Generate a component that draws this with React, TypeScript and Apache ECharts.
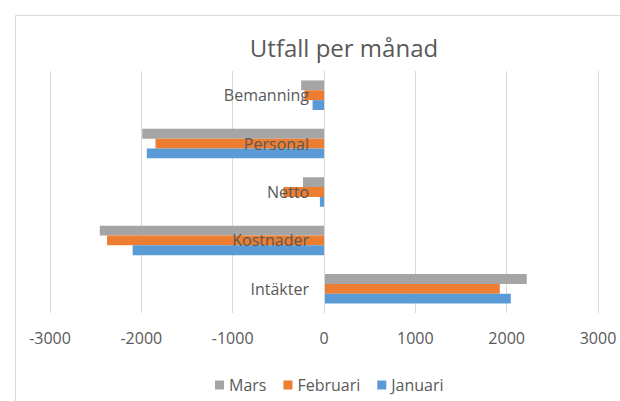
import React, { useEffect, useRef } from "react";
import * as echarts from "echarts";

const categories = ["Intäkter", "Kostnader", "Netto", "Personal", "Bemanning"];
const januari = [2045, -2095, -45, -1940, -125];
const februari = [1925, -2375, -445, -1845, -215];
const mars = [2220, -2455, -230, -1990, -250];
const seriesNames = ["Mars", "Februari", "Januari"];
const colors = ["#A5A5A5", "#ED7D31", "#5B9BD5"];
const titleText = "Utfall per månad";

const FONT = "'Open Sans', 'Noto Sans', sans-serif";
const TEXT = "#595959";
const GRID = "#D9D9D9";

export default function App() {
  const ref = useRef<HTMLDivElement>(null);
  useEffect(() => {
    if (!ref.current) return;
    const chart = echarts.init(ref.current, undefined, { renderer: "svg" });
    const values = [mars, februari, januari];
    chart.setOption({
      animation: false,
      backgroundColor: "#ffffff",
      textStyle: { fontFamily: FONT },
      graphic: [
        {
          type: "rect",
          shape: { x: 15.5, y: 15.5, width: 700, height: 500 },
          style: { fill: "none", stroke: GRID, lineWidth: 1 },
          silent: true,
          z: 0,
        },
        {
          type: "text",
          x: 344,
          y: 47,
          style: {
            text: titleText,
            font: `24px ${FONT}`,
            fill: TEXT,
            textAlign: "center",
            textVerticalAlign: "middle",
          },
        },
      ],
      legend: {
        data: seriesNames,
        left: 210,
        top: 372,
        itemWidth: 9,
        itemHeight: 9,
        itemGap: 17,
        icon: "rect",
        textStyle: { color: TEXT, fontSize: 16, fontFamily: FONT, padding: [0, 0, 0, 0] },
      },
      grid: {
        left: 50,
        right: 22,
        top: 71,
        bottom: 88,
        containLabel: false,
        outerBoundsMode: "none",
      },
      xAxis: {
        type: "value",
        min: -3000,
        max: 3000,
        interval: 1000,
        axisLine: { show: false },
        axisTick: { show: false },
        splitLine: { show: true, lineStyle: { color: GRID, width: 1 } },
        axisLabel: {
          color: TEXT,
          fontSize: 16,
          fontFamily: FONT,
          margin: 17,
          formatter: (v: number) => String(v),
        },
      },
      yAxis: {
        type: "category",
        data: categories,
        z: 10,
        position: "left",
        offset: -274,
        axisLine: { show: true, onZero: false, lineStyle: { color: GRID, width: 1 } },
        axisTick: { show: false },
        splitLine: { show: false },
        axisLabel: { color: TEXT, fontSize: 16, fontFamily: FONT, margin: 15 },
      },
      series: seriesNames.map((name, i) => ({
        name,
        type: "bar",
        data: values[i],
        barGap: "0%",
        barCategoryGap: "39%",
        itemStyle: { color: colors[i] },
      })),
    });
    return () => chart.dispose();
  }, []);
  return (
    <div
      ref={ref}
      style={{ position: "fixed", left: 0, top: 0, width: 620, height: 401 }}
    />
  );
}
